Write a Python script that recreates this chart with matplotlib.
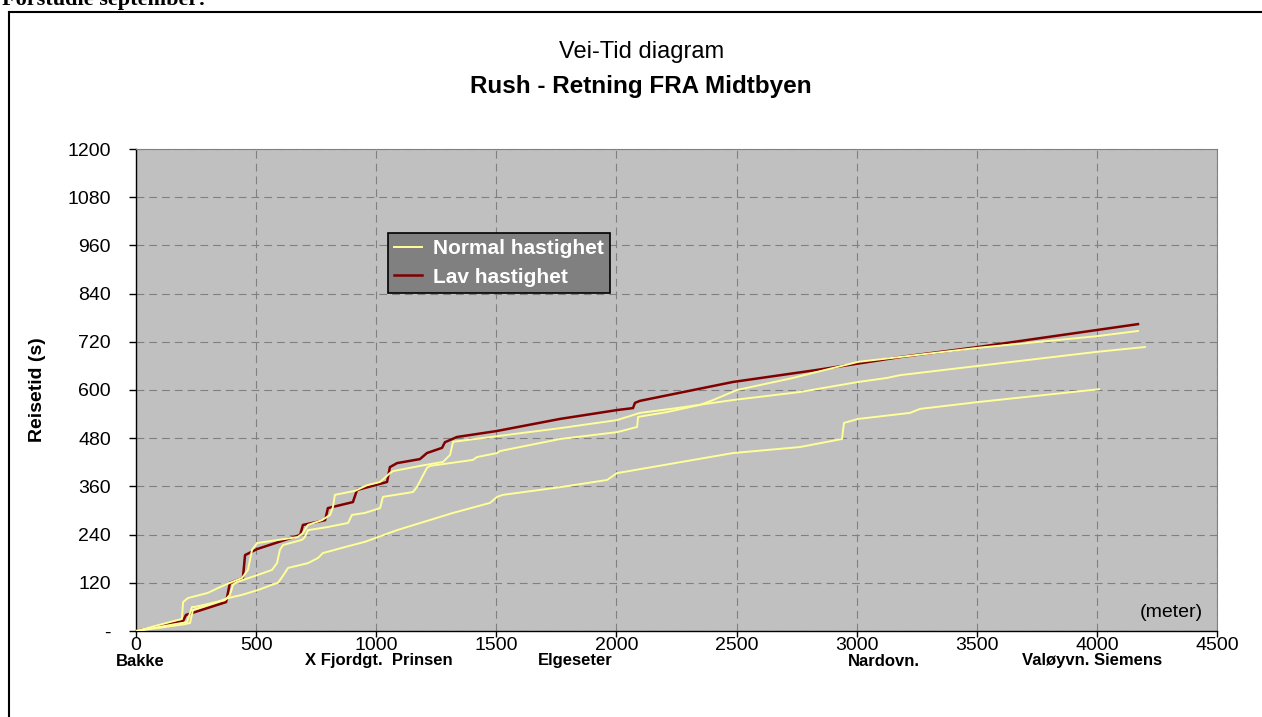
import matplotlib.pyplot as plt
from matplotlib.lines import Line2D

plt.rcParams['font.family'] = ['Liberation Sans', 'DejaVu Sans']

# Vei-tid: kjørt avstand (meter) og akkumulert reisetid (sekunder) per tur
lav_dist = [0, 196, 208, 375, 391, 445, 454, 504, 683, 695, 787, 799, 903, 920, 1045,
            1057, 1087, 1182, 1211, 1274, 1286, 1336, 1503, 1765, 2002, 2069, 2077,
            2098, 2485, 2835, 3181, 3505, 4171]
lav_tid = [0, 25, 40, 72, 120, 132, 189, 204, 239, 264, 276, 306, 321, 351, 371,
           408, 418, 428, 443, 456, 470, 483, 498, 528, 550, 555, 568,
           573, 620, 650, 682, 707, 764]

normal1_dist = [0, 191, 196, 216, 300, 341, 391, 441, 466, 483, 504, 674, 695, 716,
                774, 808, 820, 828, 912, 962, 1016, 1057, 1070, 1182, 1278, 1307,
                1320, 1765, 2002, 2098, 2252, 2402, 2485, 2764, 3006, 3126, 3181,
                3505, 4000, 4200]
normal1_tid = [0, 30, 72, 82, 95, 107, 120, 132, 152, 202, 219, 234, 244, 264,
               276, 289, 309, 339, 349, 363, 371, 393, 398, 411, 421, 438,
               471, 505, 525, 543, 555, 568, 575, 595, 620, 630, 637,
               660, 695, 707]

normal2_dist = [0, 162, 212, 225, 233, 246, 370, 391, 404, 420, 504, 566, 587, 599,
                612, 691, 703, 716, 799, 883, 899, 953, 1016, 1028, 1153, 1170, 1211,
                1224, 1403, 1419, 1503, 1515, 1765, 2002, 2086, 2090, 2210, 2348,
                2402, 2502, 2735, 2835, 3006, 3505, 4000, 4171]
normal2_tid = [0, 17, 22, 45, 60, 60, 77, 90, 115, 122, 139, 152, 169, 202,
               214, 227, 234, 251, 259, 269, 289, 294, 306, 334, 346, 359, 406,
               411, 426, 433, 443, 448, 478, 495, 508, 533, 545, 563,
               575, 600, 630, 645, 670, 705, 734, 747]

normal3_dist = [0, 204, 225, 237, 329, 383, 441, 508, 566, 591, 608, 633, 716, 758,
                778, 870, 953, 1086, 1320, 1474, 1503, 1528, 1765, 1961, 2002, 2485,
                2764, 2939, 2947, 3006, 3222, 3264, 3505, 4009]
normal3_tid = [0, 17, 20, 52, 70, 82, 90, 102, 115, 120, 134, 157, 169, 182,
               194, 209, 222, 251, 294, 319, 334, 339, 358, 376, 393, 443,
               458, 478, 518, 528, 543, 553, 570, 602]

y_ticks = [0, 120, 240, 360, 480, 600, 720, 840, 960, 1080, 1200]
y_tick_labels = ['-', '120', '240', '360', '480', '600', '720', '840', '960', '1080', '1200']
x_ticks = [0, 500, 1000, 1500, 2000, 2500, 3000, 3500, 4000, 4500]

steder = ['Bakke', 'X Fjordgt.  Prinsen', 'Elgeseter', 'Nardovn.', 'Valøyvn. Siemens']
steder_x = [17, 1012, 1827, 3114, 3980]

W, H = 1262, 717
fig = plt.figure(figsize=(W / 100, H / 100), dpi=100)
ax = fig.add_axes([136 / W, 1 - 631 / H, 1081 / W, 482 / H])
ax.set_facecolor('#c0c0c0')

gul = '#ffff99'
rod = '#800000'
ax.plot(lav_dist, lav_tid, color=rod, lw=1.8, zorder=3)
for d, t in [(normal1_dist, normal1_tid), (normal2_dist, normal2_tid),
             (normal3_dist, normal3_tid)]:
    ax.plot(d, t, color=gul, lw=1.4, zorder=4)

ax.set_xlim(0, 4500)
ax.set_ylim(0, 1200)
ax.set_xticks(x_ticks)
ax.set_yticks(y_ticks)
ax.set_yticklabels(y_tick_labels)
ax.tick_params(axis='both', direction='out', length=5, width=1, labelsize=14, color='black')
ax.tick_params(axis='x', length=4, pad=0.5)
ax.tick_params(axis='y', pad=13)
ax.grid(True, color='#808080', lw=0.8, linestyle=(0, (7, 4.5)))
ax.set_axisbelow(True)
for s in ['left', 'bottom']:
    ax.spines[s].set_color('black')
    ax.spines[s].set_linewidth(1)
for s in ['top', 'right']:
    ax.spines[s].set_color('#808080')
    ax.spines[s].set_linewidth(0.8)

ax.set_ylabel('Reisetid (s)', fontsize=14, fontweight='bold')
ax.yaxis.set_label_coords((46 - 136) / 1081, 0.5)

ax.text(4440, 45, '(meter)', fontsize=14, ha='right', va='center')

for navn, x in zip(steder, steder_x):
    ax.text(x, (631 - 661) / 482, navn, transform=ax.get_xaxis_transform(), fontsize=12,
            fontweight='bold', ha='center', va='center')

handles = [Line2D([], [], color=gul, lw=1.4), Line2D([], [], color=rod, lw=1.8)]
leg = ax.legend(handles, ['Normal hastighet', 'Lav hastighet'], loc='upper left',
                bbox_to_anchor=((388 - 136) / 1081, (631 - 233) / 482), borderaxespad=0,
                fancybox=False, facecolor='#808080', edgecolor='black', framealpha=1,
                prop={'weight': 'bold', 'size': 15}, labelcolor='white',
                handlelength=1.35, handletextpad=0.5, borderpad=0.3, labelspacing=0.45)
leg.get_frame().set_linewidth(1.2)
leg.set_zorder(10)

fig.text(642 / W, 1 - 52 / H, 'Vei-Tid diagram', fontsize=17, ha='center', va='center')
fig.text(641 / W, 1 - 87 / H, 'Rush - Retning FRA Midtbyen', fontsize=17.5,
         fontweight='bold', ha='center', va='center')

fig.text(2 / W, 1 - 5 / H, 'Forstudie september:', fontsize=16, fontweight='bold',
         family=['Liberation Serif', 'DejaVu Serif'], ha='left', va='baseline')
fig.add_artist(Line2D([9 / W, 9 / W], [0, 1 - 12 / H], color='black', lw=1.5))
fig.add_artist(Line2D([9 / W, 1], [1 - 12 / H, 1 - 12 / H], color='black', lw=1.5))

fig.savefig('out.png', dpi=100)
